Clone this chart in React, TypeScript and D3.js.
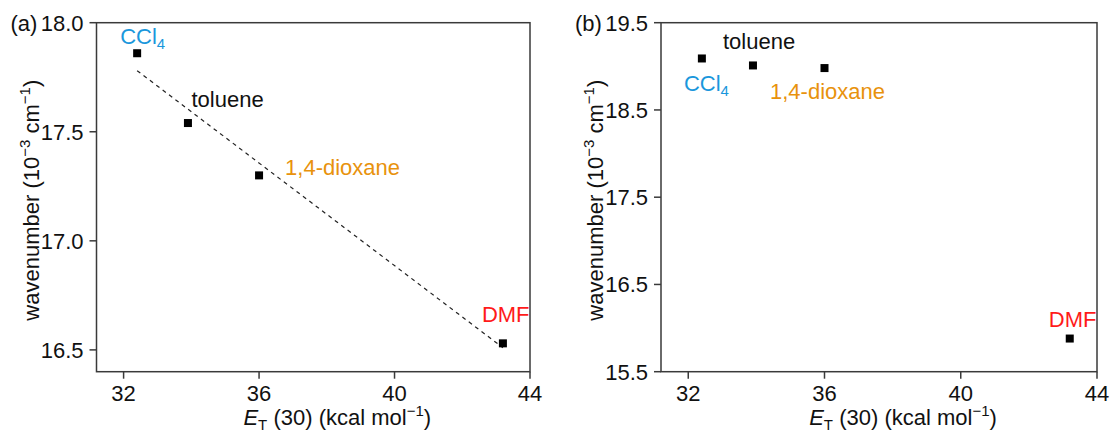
import React from 'react';
import * as d3 from 'd3';

const solvents = ['CCl4', 'toluene', '1,4-dioxane', 'DMF'];
const et30 = [32.4, 33.9, 36.0, 43.2];
const wavenumberA = [17.86, 17.54, 17.30, 16.53];
const wavenumberB = [19.09, 19.01, 18.98, 15.88];
// linear fit drawn in panel (a)
const fitX = [32.4, 43.2];
const fitA = [17.78, 16.51];

const xTicks = [32, 36, 40, 44];
const yTicksA = [16.5, 17.0, 17.5, 18.0];
const yTicksB = [15.5, 16.5, 17.5, 18.5, 19.5];

const labelColor: Record<string, string> = {
  'CCl4': '#1a97dc',
  'toluene': '#111',
  '1,4-dioxane': '#e8920c',
  'DMF': '#ff1a1a',
};

const FONT = '"Liberation Sans", Arial, sans-serif';
const AXIS = '#3a3a3a';
const FS = 22;
const SUB = 15;

function SolventLabel({ name, x, y }: { name: string; x: number; y: number }) {
  if (name === 'CCl4') {
    return (
      <text x={x} y={y} fill={labelColor[name]} fontSize={FS} fontFamily={FONT}>
        CCl<tspan fontSize={SUB} dy={5}>4</tspan>
      </text>
    );
  }
  return (
    <text x={x} y={y} fill={labelColor[name]} fontSize={FS} fontFamily={FONT}>{name}</text>
  );
}

function Panel(props: {
  left: number; top: number; width: number; height: number;
  yDomain: [number, number]; yTicks: number[]; values: number[];
  tag: string; offsets: Record<string, [number, number]>; fit?: boolean;
}) {
  const { left, top, width, height, yDomain, yTicks, values, tag, offsets } = props;
  const x = d3.scaleLinear().domain([31.2, 44]).range([left, left + width]);
  const y = d3.scaleLinear().domain(yDomain).range([top + height, top]);
  const line = d3.line<number>().x((d, i) => x(fitX[i])).y(d => y(d));
  const bottom = top + height;

  return (
    <g fontFamily={FONT}>
      <rect x={left} y={top} width={width} height={height} fill="none" stroke={AXIS} strokeWidth={1.5} />
      {xTicks.map(t => (
        <g key={'x' + t}>
          <line x1={x(t)} x2={x(t)} y1={bottom} y2={bottom + 7} stroke={AXIS} strokeWidth={1.5} />
          <text x={x(t)} y={bottom + 29} textAnchor="middle" fontSize={FS} fill="#111">{t}</text>
        </g>
      ))}
      {yTicks.map(t => (
        <g key={'y' + t}>
          <line x1={left - 7} x2={left} y1={y(t)} y2={y(t)} stroke={AXIS} strokeWidth={1.5} />
          <text x={left - 13} y={y(t) + 8} textAnchor="end" fontSize={FS} fill="#111">{t.toFixed(1)}</text>
        </g>
      ))}
      <text x={left - 86} y={top + 8} fontSize={FS} fill="#111">{tag}</text>
      <text transform={`translate(${left - 58},${top + height / 2 + 3}) rotate(-90)`} textAnchor="middle" fontSize={FS} fill="#111">
        wavenumber (10<tspan fontSize={SUB} dy={-9}>−3</tspan><tspan dy={9}> cm</tspan><tspan fontSize={SUB} dy={-9}>−1</tspan><tspan dy={9}>)</tspan>
      </text>
      <text x={left + width / 2 + 24} y={bottom + 53} textAnchor="middle" fontSize={FS} fill="#111">
        <tspan fontStyle="italic">E</tspan><tspan fontSize={SUB} dy={5}>T</tspan><tspan dy={-5}> (30) (kcal mol</tspan><tspan fontSize={SUB} dy={-9}>−1</tspan><tspan dy={9}>)</tspan>
      </text>
      {props.fit && (
        <path d={line(fitA) || ''} fill="none" stroke="#222" strokeWidth={1.2} strokeDasharray="4,4" />
      )}
      {solvents.map((s, i) => (
        <g key={s}>
          <rect x={x(et30[i]) - 4} y={y(values[i]) - 4} width={8} height={8} fill="#000" />
          <SolventLabel name={s} x={x(et30[i]) + offsets[s][0]} y={y(values[i]) + offsets[s][1]} />
        </g>
      ))}
    </g>
  );
}

export default function App() {
  return (
    <svg width={1111} height={432} style={{ position: 'absolute', left: 0, top: 0, background: '#fff' }}>
      <Panel left={96.5} top={22.7} width={433.5} height={349} yDomain={[16.4, 18.0]} yTicks={yTicksA}
        values={wavenumberA} tag="(a)" fit
        offsets={{ 'CCl4': [-17, -9], 'toluene': [3.5, -16], '1,4-dioxane': [26, -0.5], 'DMF': [-21, -21.5] }} />
      <Panel left={661} top={22.7} width={436} height={349} yDomain={[15.5, 19.5]} yTicks={yTicksB}
        values={wavenumberB} tag="(b)"
        offsets={{ 'CCl4': [-18, 33], 'toluene': [-30, -16.5], '1,4-dioxane': [-54.5, 30.5], 'DMF': [-21, -12] }} />
    </svg>
  );
}
